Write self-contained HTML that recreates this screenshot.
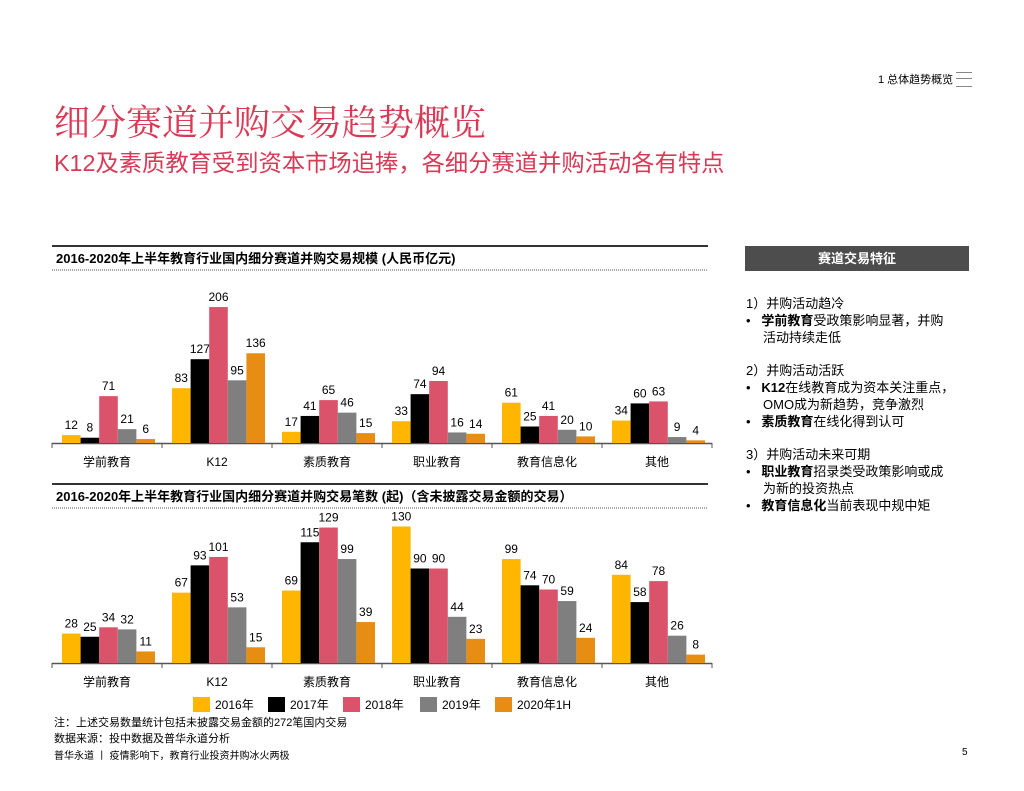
<!DOCTYPE html>
<html><head><meta charset="utf-8">
<style>
body{margin:0;width:1024px;height:791px;background:#fff;position:relative;overflow:hidden;font-family:"Liberation Sans","Noto Sans CJK SC",sans-serif;color:#000}
.abs{position:absolute;white-space:nowrap}
.panel div{font-size:13px;line-height:17px}
.panel b{font-weight:bold}
</style></head><body>
<div class="abs" style="left:878px;top:71px;font-size:11px">1 总体趋势概览</div>
<div class="abs" style="left:956px;top:72px;width:16px;height:13px;border-top:1px solid #888;border-bottom:1px solid #888"><div style="margin-top:5px;border-top:1px solid #888"></div></div>
<div class="abs" style="left:54px;top:95px;font-size:36px;color:#d93954;font-family:'Liberation Serif','Noto Serif CJK SC',serif">细分赛道并购交易趋势概览</div>
<div class="abs" style="left:54px;top:144px;font-size:23.3px;color:#d93954">K12及素质教育受到资本市场追捧，各细分赛道并购活动各有特点</div>

<svg id="chart" class="abs" style="left:0;top:0" width="1024" height="791"></svg>

<div class="abs" style="left:745px;top:246px;width:224px;height:25px;background:#4d4d4d;color:#fff;font-weight:bold;font-size:13px;text-align:center;line-height:25px">赛道交易特征</div>
<div class="abs panel" style="left:746px;top:295px">
<div>1）并购活动趋冷</div>
<div>•&nbsp;&nbsp; <b>学前教育</b>受政策影响显著，并购</div>
<div style="padding-left:17px">活动持续走低</div>
<div style="margin-top:16px">2）并购活动活跃</div>
<div>•&nbsp;&nbsp; <b>K12</b>在线教育成为资本关注重点，</div>
<div style="padding-left:17px">OMO成为新趋势，竞争激烈</div>
<div>•&nbsp;&nbsp; <b>素质教育</b>在线化得到认可</div>
<div style="margin-top:16px">3）并购活动未来可期</div>
<div>•&nbsp;&nbsp; <b>职业教育</b>招录类受政策影响或成</div>
<div style="padding-left:17px">为新的投资热点</div>
<div>•&nbsp;&nbsp; <b>教育信息化</b>当前表现中规中矩</div>
</div>

<div class="abs" style="left:54px;top:714px;font-size:11px">注：上述交易数量统计包括未披露交易金额的272笔国内交易</div>
<div class="abs" style="left:54px;top:730px;font-size:11px">数据来源：投中数据及普华永道分析</div>
<div class="abs" style="left:54px;top:747px;font-size:10px">普华永道 丨 疫情影响下，教育行业投资并购冰火两极</div>
<div class="abs" style="left:962px;top:747px;font-size:10px">5</div>

<script>
const categories=["学前教育","K12","素质教育","职业教育","教育信息化","其他"];
const seriesNames=["2016年","2017年","2018年","2019年","2020年1H"];
const amount2016=[12,83,17,33,61,34];
const amount2017=[8,127,41,74,25,60];
const amount2018=[71,206,65,94,41,63];
const amount2019=[21,95,46,16,20,9];
const amount2020=[6,136,15,14,10,4];
const count2016=[28,67,69,130,99,84];
const count2017=[25,93,115,90,74,58];
const count2018=[34,101,129,90,70,78];
const count2019=[32,53,99,44,59,26];
const count2020=[11,15,39,23,24,8];
const colors=["#ffb600","#000000","#db536a","#7f7f7f","#e88d14"];
const NS="http://www.w3.org/2000/svg";
const svg=document.getElementById('chart');
function mk(t,a,p){const e=document.createElementNS(NS,t);for(const k in a)e.setAttribute(k,a[k]);(p||svg).appendChild(e);return e;}
function chart(series,top,base,scale,title,prefix){
  const x0=52,x1=712,gw=(x1-x0)/6,bw=18.6,pad=10;
  const l1=mk('line',{x1:x0,x2:708,y1:top,y2:top,stroke:'#333','stroke-width':2});
  
  const t=mk('text',{x:x0+4,y:top+17,'font-size':13,'font-weight':'bold'});t.textContent=title;
  
  const l2=mk('line',{x1:x0,x2:708,y1:top+24,y2:top+24,stroke:'#555','stroke-width':1,'stroke-dasharray':'1,1'});
  
  const ax=mk('line',{x1:x0,x2:x1,y1:base+0.5,y2:base+0.5,stroke:'#555','stroke-width':1.5});
  
  for(let i=0;i<=6;i++){const tk=mk('line',{x1:x0+i*gw,x2:x0+i*gw,y1:base,y2:base+5,stroke:'#555'});
    }
  categories.forEach((c,i)=>{
    const ct=mk('text',{x:x0+gw*i+gw/2,y:base+23,'font-size':12,'text-anchor':'middle'});ct.textContent=c;
    
    series.forEach((s,j)=>{
      const h=s[i]*scale,x=x0+gw*i+pad+j*bw;
      const r=mk('rect',{x:x,y:base-h,width:bw,height:h,fill:colors[j]});
      
      const v=mk('text',{x:x+bw/2,y:base-h-6,'font-size':12,'text-anchor':'middle'});v.textContent=s[i];
      
    });
  });
}
chart([amount2016,amount2017,amount2018,amount2019,amount2020],246,443,0.66,"2016-2020年上半年教育行业国内细分赛道并购交易规模 (人民币亿元)","amount");
chart([count2016,count2017,count2018,count2019,count2020],484,663,1.05,"2016-2020年上半年教育行业国内细分赛道并购交易笔数 (起)（含未披露交易金额的交易）","count");
const lx=[193,268,343,420,495];
seriesNames.forEach((n,j)=>{
  const r=mk('rect',{x:lx[j],y:697,width:17,height:15,fill:colors[j]});
  
  const t=mk('text',{x:lx[j]+22,y:709,'font-size':12});t.textContent=n;
  
});
</script>
</body></html>
